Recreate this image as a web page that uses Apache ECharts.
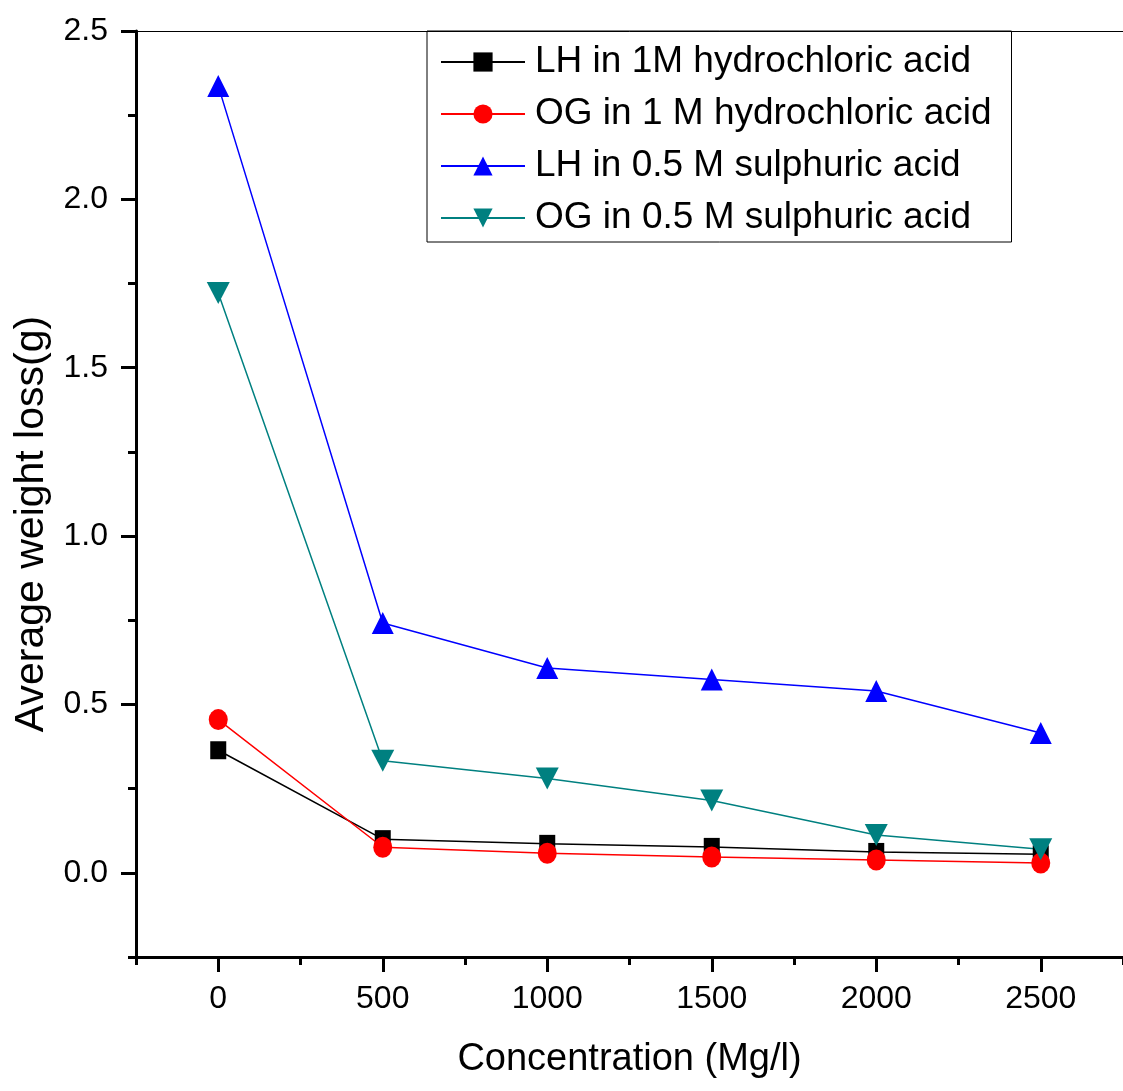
<!DOCTYPE html>
<html>
<head>
<meta charset="utf-8">
<script src="https://cdn.jsdelivr.net/npm/echarts@6/dist/echarts.min.js"></script>
<style>
    html, body { margin: 0; padding: 0; background: #fff; }
    #main { width: 1123px; height: 1091px; }
</style>
</head>
<body>
<div id="main"></div>
<script>
// 数据
var concentration = [0, 500, 1000, 1500, 2000, 2500];
var lhHcl = [0.364, 0.100, 0.086, 0.077, 0.062, 0.055];
var ogHcl = [0.455, 0.076, 0.058, 0.047, 0.038, 0.029];
var lhH2so4 = [2.337, 0.742, 0.608, 0.574, 0.540, 0.415];
var ogH2so4 = [1.722, 0.333, 0.280, 0.215, 0.112, 0.070];
var seriesNames = ['LH in 1M hydrochloric acid', 'OG in 1 M hydrochloric acid', 'LH in 0.5 M sulphuric acid', 'OG in 0.5 M sulphuric acid'];
var xTickLabels = [0, 500, 1000, 1500, 2000, 2500];
var yTickLabels = [0, 0.5, 1.0, 1.5, 2.0, 2.5];

function pairs(ys) {
    var out = [];
    for (let i = 0; i < concentration.length; i++) {
        out.push([concentration[i], ys[i]]);
    }
    return out;
}

var font = 'Liberation Sans, Arial, sans-serif';
var myChart = echarts.init(document.getElementById('main'));

var option = {
    animation: false,
    backgroundColor: '#fff',
    grid: { left: 136, right: -8, top: 31, bottom: 134 },
    legend: {
        orient: 'vertical',
        left: 427,
        top: 31,
        padding: [11, 20, 4, 13],
        borderColor: '#000',
        borderWidth: 1,
        itemWidth: 84,
        itemHeight: 24,
        itemGap: 12,
        textStyle: { fontFamily: font, fontSize: 37, lineHeight: 40, color: '#000', padding: [0, 0, 0, 5] },
        data: seriesNames
    },
    xAxis: [
        {
            type: 'value', position: 'bottom', min: -250, max: 2750, interval: 250,
            name: 'Concentration (Mg/l)', nameLocation: 'middle', nameGap: 84,
            nameTextStyle: { fontFamily: font, fontSize: 38, color: '#000' },
            splitLine: { show: false },
            axisLine: { onZero: false, lineStyle: { color: '#000', width: 3 } },
            axisTick: { length: 8, lineStyle: { color: '#000', width: 3 } },
            axisLabel: {
                customValues: xTickLabels, margin: 26, fontFamily: font, fontSize: 32, color: '#000',
                formatter: function (v) { return String(v); }
            }
        },
        {
            // 主刻度
            type: 'value', position: 'bottom', min: -250, max: 2750,
            splitLine: { show: false },
            axisLine: { show: false, onZero: false },
            axisTick: { customValues: xTickLabels, length: 15, lineStyle: { color: '#000', width: 3 } },
            axisLabel: { show: false }
        },
        {
            type: 'value', position: 'top', min: -250, max: 2750,
            splitLine: { show: false },
            axisLine: { onZero: false, lineStyle: { color: '#000', width: 1 } },
            axisTick: { show: false },
            axisLabel: { show: false }
        }
    ],
    yAxis: [
        {
            type: 'value', position: 'left', min: -0.25, max: 2.5, interval: 0.25,
            name: 'Average weight loss(g)', nameLocation: 'middle', nameGap: 84,
            nameTextStyle: { fontFamily: font, fontSize: 41, color: '#000', padding: [0, 60, 0, 0] },
            splitLine: { show: false },
            axisLine: { onZero: false, lineStyle: { color: '#000', width: 3 } },
            axisTick: { length: 8, lineStyle: { color: '#000', width: 3 } },
            axisLabel: {
                customValues: yTickLabels, margin: 28, fontFamily: font, fontSize: 32, color: '#000',
                formatter: function (v) { return v.toFixed(1); }
            }
        },
        {
            // 主刻度
            type: 'value', position: 'left', min: -0.25, max: 2.5,
            splitLine: { show: false },
            axisLine: { show: false, onZero: false },
            axisTick: { customValues: yTickLabels, length: 15, lineStyle: { color: '#000', width: 3 } },
            axisLabel: { show: false }
        },
        {
            type: 'value', position: 'right', min: -0.25, max: 2.5,
            splitLine: { show: false },
            axisLine: { onZero: false, lineStyle: { color: '#000', width: 1 } },
            axisTick: { show: false },
            axisLabel: { show: false }
        }
    ],
    series: [
        {
            name: seriesNames[0], type: 'line', data: pairs(lhHcl),
            symbol: 'rect', symbolSize: [16, 18],
            itemStyle: { color: '#000000' },
            lineStyle: { color: '#000000', width: 1.5 }
        },
        {
            name: seriesNames[1], type: 'line', data: pairs(ogHcl),
            symbol: 'circle', symbolSize: [19, 21],
            itemStyle: { color: '#ff0000' },
            lineStyle: { color: '#ff0000', width: 1.5 }
        },
        {
            name: seriesNames[2], type: 'line', data: pairs(lhH2so4),
            symbol: 'triangle', symbolSize: [22, 22],
            itemStyle: { color: '#0000ff' },
            lineStyle: { color: '#0000ff', width: 1.5 }
        },
        {
            name: seriesNames[3], type: 'line', data: pairs(ogH2so4),
            symbol: 'triangle', symbolRotate: 180, symbolSize: [23, 22],
            itemStyle: { color: '#008080' },
            lineStyle: { color: '#008080', width: 1.5 }
        }
    ]
};

myChart.setOption(option);
</script>
</body>
</html>
